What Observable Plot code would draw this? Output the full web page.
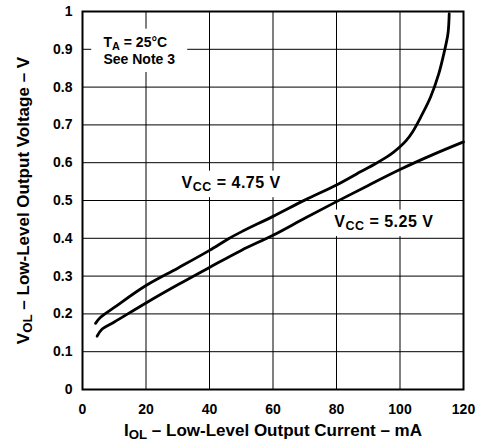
<!DOCTYPE html>
<html>
<head>
<meta charset="utf-8">
<script src="https://cdn.jsdelivr.net/npm/d3@7"></script>
<script src="https://cdn.jsdelivr.net/npm/@observablehq/plot@0.6"></script>
<style>
  html, body { margin: 0; padding: 0; background: #fff; }
  #chart svg { display: block; }
</style>
</head>
<body>
<div id="chart"></div>
<script>
// ---- data ----
const current475 = [4.1, 5.7, 10, 20, 30, 40, 46, 50, 60, 70, 80, 88, 92, 96, 98, 100, 102, 104, 106.5, 109.6, 112.2, 113.8, 115.1, 115.5];
const vol475     = [0.175, 0.191, 0.217, 0.275, 0.321, 0.368, 0.399, 0.417, 0.458, 0.501, 0.541, 0.578, 0.596, 0.616, 0.628, 0.642, 0.659, 0.682, 0.720, 0.773, 0.835, 0.888, 0.941, 0.994];

const current525 = [4.6, 6.2, 9.9, 20, 30, 40, 50, 60, 70, 80, 90, 100, 110, 120];
const vol525     = [0.141, 0.160, 0.178, 0.229, 0.277, 0.323, 0.368, 0.408, 0.453, 0.497, 0.540, 0.582, 0.620, 0.655];

const xTicks = [0, 20, 40, 60, 80, 100, 120];
const xTickLabels = ["0", "20", "40", "60", "80", "100", "120"];
const yTicks = [0, 0.1, 0.2, 0.3, 0.4, 0.5, 0.6, 0.7, 0.8, 0.9, 1];
const yTickLabels = ["0", "0.1", "0.2", "0.3", "0.4", "0.5", "0.6", "0.7", "0.8", "0.9", "1"];
const xGrid = [20, 40, 60, 80, 100];
const yGrid = [0.1, 0.2, 0.3, 0.4, 0.5, 0.6, 0.7, 0.8, 0.9];

// annotation texts ({..} = subscript)
const noteTexts = ["T{A} = 25°C", "See Note 3"];
const noteX = [6.6, 6.6];
const noteY = [0.907, 0.861];
const seriesLabels = ["V{CC} = 4.75 V", "V{CC} = 5.25 V"];
const seriesLabelX = [31.2, 79.3];
const seriesLabelY = [0.534, 0.431];

const xTitle = "I{OL} – Low-Level Output Current – mA";
const yTitle = "V{OL} – Low-Level Output Voltage – V";

// ---- build tables ----
const line475 = current475.map((x, i) => ({x, y: vol475[i]}));
const line525 = current525.map((x, i) => ({x, y: vol525[i]}));
const notes = noteTexts.map((t, i) => ({x: noteX[i], y: noteY[i], t}));
const slabels = seriesLabels.map((t, i) => ({x: seriesLabelX[i], y: seriesLabelY[i], t}));

const font = "'Liberation Sans', Arial, Helvetica, sans-serif";

const chart = Plot.plot({
  width: 481,
  height: 441,
  marginLeft: 82,
  marginRight: 18,
  marginTop: 11,
  marginBottom: 52,
  style: {fontFamily: font, fontSize: "14px", fontWeight: "bold", color: "black", background: "white"},
  x: {domain: [0, 120], ticks: xTicks, tickFormat: d => xTickLabels[xTicks.indexOf(d)], tickSize: 0, tickPadding: 15, label: null},
  y: {domain: [0, 1], ticks: yTicks, tickFormat: d => yTickLabels[yTicks.indexOf(d)], tickSize: 0, tickPadding: 10, label: null},
  marks: [
    Plot.gridX(xGrid, {stroke: "black", strokeOpacity: 1, strokeWidth: 1}),
    Plot.gridY(yGrid, {stroke: "black", strokeOpacity: 1, strokeWidth: 1}),
    Plot.line(line475, {x: "x", y: "y", stroke: "black", strokeWidth: 2.8, curve: "catmull-rom"}),
    Plot.line(line525, {x: "x", y: "y", stroke: "black", strokeWidth: 2.8, curve: "catmull-rom"}),
    Plot.text(notes, {x: "x", y: "y", text: "t", textAnchor: "start", lineAnchor: "bottom", fontSize: 14, fill: "black", ariaDescription: "note"}),
    Plot.text(slabels, {x: "x", y: "y", text: "t", textAnchor: "start", lineAnchor: "bottom", fontSize: 16, fill: "black", ariaDescription: "serieslabel"}),
    Plot.text([xTitle], {text: d => d, frameAnchor: "bottom", lineAnchor: "bottom", dy: 46, fontSize: 17, fill: "black"}),
    Plot.text([yTitle], {text: d => d, frameAnchor: "left", textAnchor: "middle", lineAnchor: "bottom", rotate: -90, dx: -54, fontSize: 17, fill: "black"}),
    Plot.frame({stroke: "black", strokeWidth: 2})
  ]
});

// turn {..} into subscripts
d3.select(chart).selectAll("text").each(function () {
  const t = this.textContent;
  if (!t.includes("{")) return;
  const parts = t.split(/(\{[^}]*\})/).filter(p => p.length);
  this.textContent = "";
  let shifted = false;
  for (const p of parts) {
    const ts = document.createElementNS("http://www.w3.org/2000/svg", "tspan");
    if (p.startsWith("{")) {
      ts.textContent = p.slice(1, -1);
      ts.setAttribute("dy", "3.5");
      ts.setAttribute("font-size", "0.78em");
      shifted = true;
    } else {
      ts.textContent = p;
      if (shifted) { ts.setAttribute("dy", "-3.5"); shifted = false; }
    }
    this.appendChild(ts);
  }
});

d3.select(chart).selectAll('g[aria-description="serieslabel"] text').attr("letter-spacing", "0.5");

document.getElementById("chart").appendChild(chart);

// white knock-out boxes behind annotation texts (hide gridlines like the original)
(function () {
  const svgRect = chart.getBoundingClientRect();
  const firstLine = chart.querySelector('g[aria-label="line"]');
  const knock = document.createElementNS("http://www.w3.org/2000/svg", "g");
  const pads = {note: [12, 5], serieslabel: [4, 3]};
  for (const key of Object.keys(pads)) {
    const [px, py] = pads[key];
    chart.querySelectorAll(`g[aria-description="${key}"] text`).forEach(t => {
      const r = t.getBoundingClientRect();
      const rect = document.createElementNS("http://www.w3.org/2000/svg", "rect");
      rect.setAttribute("x", r.left - svgRect.left - px);
      rect.setAttribute("y", r.top - svgRect.top - py);
      rect.setAttribute("width", r.width + 2 * px);
      rect.setAttribute("height", r.height + 2 * py);
      rect.setAttribute("fill", "white");
      knock.appendChild(rect);
    });
  }
  firstLine.parentNode.insertBefore(knock, firstLine);
})();
</script>
</body>
</html>
